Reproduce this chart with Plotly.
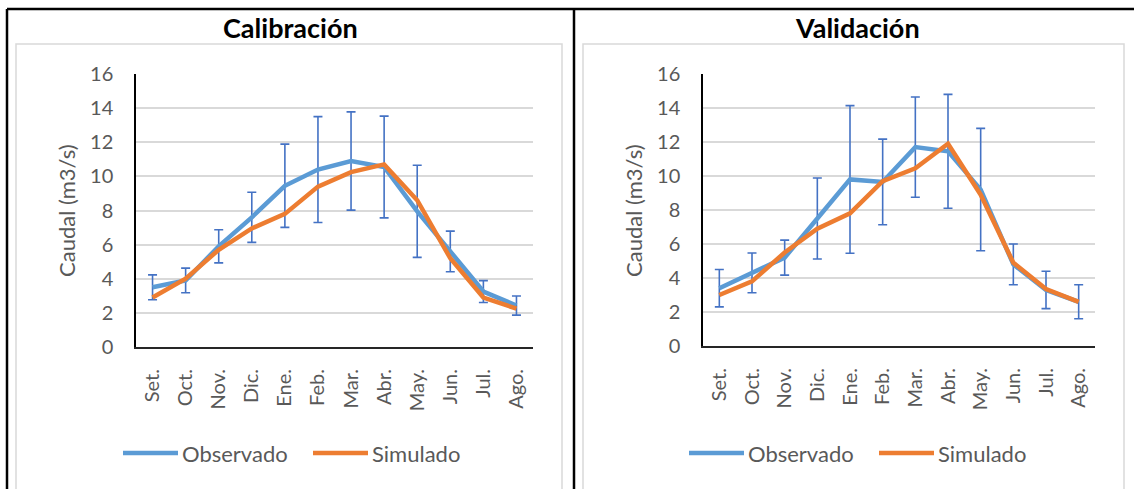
import plotly.graph_objects as go

# datos
meses = ["Set.", "Oct.", "Nov.", "Dic.", "Ene.", "Feb.", "Mar.", "Abr.", "May.", "Jun.", "Jul.", "Ago."]

cal_obs = [3.5, 3.9, 5.9, 7.6, 9.45, 10.4, 10.9, 10.55, 7.95, 5.6, 3.25, 2.43]
cal_err = [0.73, 0.72, 0.97, 1.47, 2.44, 3.1, 2.88, 2.98, 2.7, 1.19, 0.64, 0.56]
cal_sim = [2.9, 4.0, 5.7, 6.95, 7.8, 9.4, 10.25, 10.7, 8.6, 5.2, 2.9, 2.25]

val_obs = [3.4, 4.3, 5.2, 7.5, 9.8, 9.65, 11.7, 11.45, 9.2, 4.8, 3.3, 2.6]
val_err = [1.1, 1.17, 1.03, 2.38, 4.34, 2.52, 2.95, 3.35, 3.6, 1.2, 1.1, 1.0]
val_sim = [3.0, 3.8, 5.5, 6.9, 7.8, 9.7, 10.45, 11.9, 8.9, 4.9, 3.35, 2.6]

titulos = ["Calibración", "Validación"]
series = ["Observado", "Simulado"]

W, H = 1134, 489
AZUL = "#5B9BD5"
NARANJA = "#ED7D31"
ERR = "#4472C4"
GRIS = "#595959"
FUENTE = "Lato"


def px(x):
    return x / W


def py(y):
    return 1 - y / H


fig = go.Figure()

paneles = [
    (cal_obs, cal_err, cal_sim, "x", "y"),
    (val_obs, val_err, val_sim, "x2", "y2"),
]
for obs, err, sim, xa, ya in paneles:
    fig.add_trace(go.Scatter(x=meses, y=obs, mode="lines", name=series[0],
                             line=dict(color=AZUL, width=4.5),
                             error_y=dict(type="data", array=err, visible=True,
                                          color=ERR, thickness=1.6, width=4.5),
                             xaxis=xa, yaxis=ya, showlegend=False))
    fig.add_trace(go.Scatter(x=meses, y=sim, mode="lines", name=series[1],
                             line=dict(color=NARANJA, width=4.5),
                             xaxis=xa, yaxis=ya, showlegend=False))

eje_x = dict(type="category", range=[-0.5, 11.5], tickangle=-90, showgrid=False,
             showline=True, linecolor="#262626", linewidth=2, ticks="",
             tickfont=dict(family=FUENTE, size=20, color=GRIS),
             ticklabelstandoff=12, automargin=False, fixedrange=True)
eje_y = dict(range=[0, 16], dtick=2, showgrid=True, gridcolor="#D9D9D9", gridwidth=1.5,
             zeroline=False, showline=True, linecolor="#000000", linewidth=1.5, ticks="",
             tickfont=dict(family=FUENTE, size=20, color=GRIS),
             ticklabelstandoff=17, automargin=False, fixedrange=True)

fig.update_layout(
    width=W, height=H,
    margin=dict(l=0, r=0, t=0, b=0),
    paper_bgcolor="white", plot_bgcolor="white",
    xaxis=dict(eje_x, domain=[px(136), px(533)], anchor="y"),
    yaxis=dict(eje_y, domain=[py(347), py(74)], anchor="x"),
    xaxis2=dict(eje_x, domain=[px(703), px(1095)], anchor="y2"),
    yaxis2=dict(eje_y, domain=[py(346), py(74)], anchor="x2"),
)

# bordes de la tabla y marcos de los graficos
negro = dict(color="black", width=2.5)
marco = dict(color="#D9D9D9", width=1.5)
formas = [
    dict(type="line", x0=px(7), x1=px(1134), y0=py(9), y1=py(9), line=negro),
    dict(type="line", x0=px(7), x1=px(7), y0=py(9), y1=py(495), line=negro),
    dict(type="line", x0=px(574), x1=px(574), y0=py(9), y1=py(495), line=negro),
    dict(type="rect", x0=px(16), x1=px(562), y0=py(44), y1=py(495), line=marco),
    dict(type="rect", x0=px(583), x1=px(1124), y0=py(44), y1=py(495), line=marco),
]
anot = []
for i, (cx, t) in enumerate(zip([290, 857], titulos)):
    anot.append(dict(text="<b>" + t + "</b>", x=px(cx), y=py(28), xanchor="center", yanchor="middle"))
    anot[-1]["font"] = dict(family=FUENTE, size=27, color="black")
    # titulo del eje y
    ex = [66, 633][i]
    anot.append(dict(text="Caudal (m3/s)", x=px(ex), y=py(211), xanchor="center", yanchor="middle",
                     textangle=-90, font=dict(family=FUENTE, size=22, color=GRIS)))
    # leyenda manual
    off = [0, 566][i]
    for lx, col, nom in [(123, AZUL, series[0]), (313, NARANJA, series[1])]:
        formas.append(dict(type="line", x0=px(lx + off), x1=px(lx + off + 55), y0=py(453), y1=py(453),
                           line=dict(color=col, width=4.5)))
        anot.append(dict(text=nom, x=px(lx + off + 57), y=py(453), xanchor="left", yanchor="middle",
                         font=dict(family=FUENTE, size=22, color=GRIS)))

for f in formas:
    f["xref"] = "paper"
    f["yref"] = "paper"
for a in anot:
    a["xref"] = "paper"
    a["yref"] = "paper"
    a["showarrow"] = False

fig.update_layout(shapes=formas, annotations=anot)

fig.write_html("out.html", config={"displayModeBar": False},
               post_script="document.body.style.margin='0';")
